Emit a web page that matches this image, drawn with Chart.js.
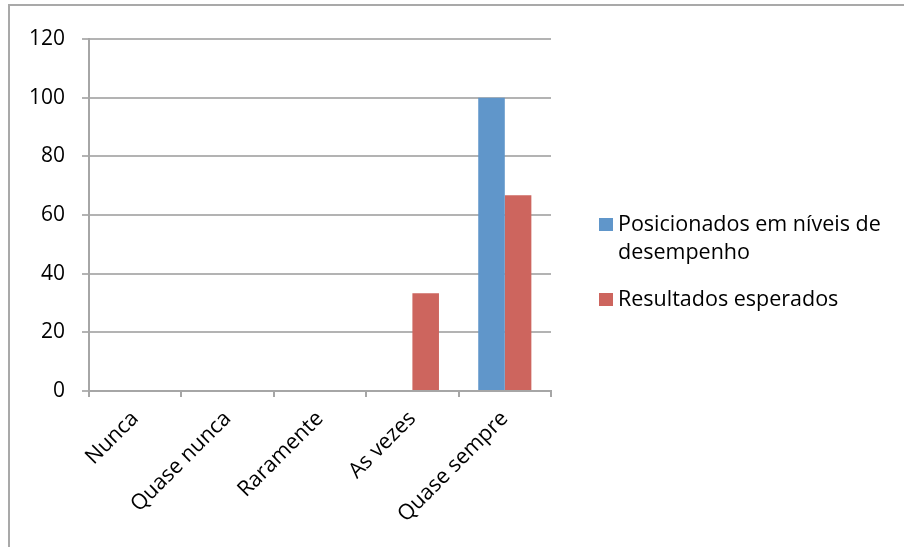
<!DOCTYPE html>
<html>
<head>
<meta charset="utf-8">
<script src="https://cdn.jsdelivr.net/npm/chart.js@4/dist/chart.umd.min.js"></script>
<style>
  html, body { margin: 0; padding: 0; background: #fff; }
  #wrap { position: relative; width: 904px; height: 547px; overflow: hidden; }
  #frame { position: absolute; left: 8px; top: 4px; width: 1000px; height: 1000px;
           border-top: 2px solid #a9a9a9; border-left: 2px solid #a9a9a9; }
  #chart { position: absolute; left: 0; top: 0; }
  #legend { position: absolute; left: 599px; top: 209px; font-family: "Open Sans", sans-serif;
            font-size: 21.5px; color: #000; }
  .item { display: flex; align-items: flex-start; margin-bottom: 19px; }
  .box { width: 14px; height: 13px; margin-top: 9px; margin-right: 5px; flex: none; }
  .txt { width: 284px; line-height: 28px; }
</style>
</head>
<body>
<div id="wrap">
  <div id="frame"></div>
  <canvas id="chart" width="904" height="547"></canvas>
  <div id="legend"></div>
</div>
<script>
const categories = ["Nunca", "Quase nunca", "Raramente", "As vezes", "Quase sempre"];
const posicionados = [0, 0, 0, 0, 100];
const resultados = [0, 0, 0, 33.3, 66.7];
const seriesNames = ["Posicionados em níveis de desempenho", "Resultados esperados"];
const yTicks = [0, 20, 40, 60, 80, 100, 120];

const colors = ["#6096ca", "#cd655e"];
const font = { family: "'Open Sans', sans-serif", size: 21 };
const ctx = document.getElementById("chart").getContext("2d");

const chart = new Chart(ctx, {
  type: "bar",
  data: {
    labels: categories,
    datasets: [
      { label: seriesNames[0], data: posicionados, backgroundColor: colors[0] },
      { label: seriesNames[1], data: resultados, backgroundColor: colors[1] },
    ],
  },
  options: {
    responsive: false,
    animation: false,
    layout: { padding: { top: 39, right: 353, left: 0, bottom: 0 } },
    datasets: { bar: { barPercentage: 1, categoryPercentage: 0.575 } },
    plugins: { legend: { display: false }, tooltip: { enabled: false } },
    scales: {
      x: {
        grid: { drawOnChartArea: false, drawTicks: true, tickLength: 6, color: "#a6a6a6", lineWidth: 2 },
        border: { color: "#a6a6a6", width: 2 },
        ticks: { font: { ...font, size: 21.5 }, color: "#000", maxRotation: 45, minRotation: 45, padding: 9 },
        afterFit: (scale) => { scale.height = 156; },
      },
      y: {
        min: 0,
        max: 120,
        afterBuildTicks: (scale) => { scale.ticks = yTicks.map((v) => ({ value: v })); },
        grid: { color: "#b3b3b3", lineWidth: 2, tickLength: 7 },
        border: { color: "#a6a6a6", width: 2 },
        ticks: { font, color: "#000", padding: 17 },
        afterFit: (scale) => { scale.width = 89; },
      },
    },
  },
});

const legend = document.getElementById("legend");
chart.data.datasets.forEach((ds) => {
  const item = document.createElement("div");
  item.className = "item";
  const box = document.createElement("div");
  box.className = "box";
  box.style.background = ds.backgroundColor;
  const txt = document.createElement("div");
  txt.className = "txt";
  txt.textContent = ds.label;
  item.appendChild(box);
  item.appendChild(txt);
  legend.appendChild(item);
});
</script>
</body>
</html>
